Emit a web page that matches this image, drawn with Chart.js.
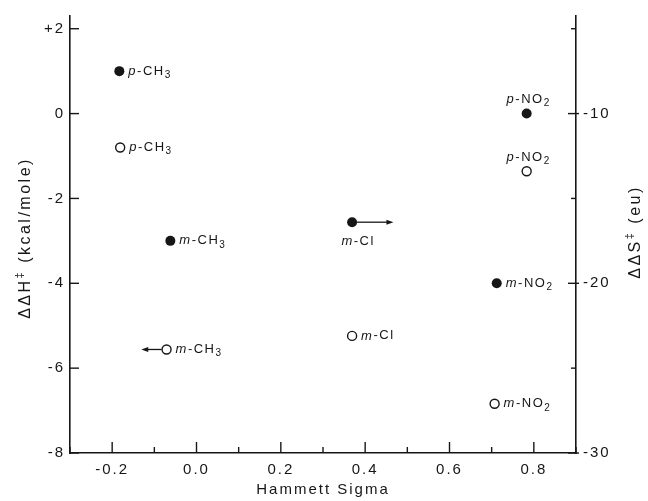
<!DOCTYPE html>
<html>
<head>
<meta charset="utf-8">
<script src="https://cdn.jsdelivr.net/npm/chart.js@4.4.1/dist/chart.umd.min.js"></script>
<style>
  html, body { margin: 0; padding: 0; background: #fff; }
</style>
</head>
<body>
<canvas id="hammett" width="648" height="501"></canvas>
<script>
// substituents, in the same order for every array below
const substituents = ['p-CH3', 'm-CH3', 'm-Cl', 'm-NO2', 'p-NO2']

// filled circles: ddH (kcal/mole), left axis
const sigmaH = [-0.183, -0.062, 0.369, 0.712, 0.783]
const deltaH = [1.0, -3.0, -2.56, -4.0, 0.0]
const arrowH = [null, null, 0.467, null, null]

// open circles: ddS (eu), right axis
const sigmaS = [-0.181, -0.071, 0.369, 0.707, 0.783]
const deltaS = [-12.0, -23.9, -23.1, -27.1, -13.4]
const arrowS = [null, -0.131, null, null, null]

// axes
const sigmaTicks = [-0.3, -0.2, -0.1, 0, 0.1, 0.2, 0.3, 0.4, 0.5, 0.6, 0.7, 0.8, 0.9]
const sigmaLabels = [-0.2, 0, 0.2, 0.4, 0.6, 0.8]
const hTicks = [-8, -6, -4, -2, 0, 2]
const sTicks = [-30, -25, -20, -15, -10, -5]
const sLabels = [-30, -20, -10]

// where each label sits next to its point
const placeH = ['right', 'right', 'below', 'right', 'above']
const placeS = ['right', 'right', 'right', 'right', 'above']

const FONT = '"Liberation Sans", Arial, sans-serif'
const INK = '#161616'

const near = (a, b) => Math.abs(a - b) < 1e-9

// label like "m-NO2": italic first letter, digits as subscripts
function drawLabel(ctx, text, x, y, align) {
  const parts = [{ t: text[0], f: 'italic 13px ' + FONT, dy: 0 }]
  for (const ch of text.slice(1)) {
    if (/\d/.test(ch)) parts.push({ t: ch, f: '10px ' + FONT, dy: 4 })
    else parts.push({ t: ch, f: '13px ' + FONT, dy: 0 })
  }
  let w = 0
  parts.forEach(p => { ctx.font = p.f; p.w = ctx.measureText(p.t).width; w += p.w })
  let cx = align === 'center' ? x - w / 2 : x
  ctx.textAlign = 'left'
  ctx.textBaseline = 'middle'
  parts.forEach(p => { ctx.font = p.f; ctx.fillText(p.t, cx, y + p.dy); cx += p.w })
}

function drawArrow(ctx, x0, x1, y) {
  const dir = Math.sign(x1 - x0)
  ctx.beginPath()
  ctx.moveTo(x0 + dir * 5, y)
  ctx.lineTo(x1 - dir * 5, y)
  ctx.stroke()
  ctx.beginPath()
  ctx.moveTo(x1, y)
  ctx.lineTo(x1 - dir * 7, y - 2.5)
  ctx.lineTo(x1 - dir * 7, y + 2.5)
  ctx.closePath()
  ctx.fill()
}

// axis title like "ddH‡ (kcal/mole)", rotated to read upward
function drawYTitle(ctx, main, rest, cx, cy) {
  ctx.save()
  ctx.translate(cx, cy)
  ctx.rotate(-Math.PI / 2)
  ctx.letterSpacing = '2.5px'
  ctx.font = '16px ' + FONT
  const w1 = ctx.measureText(main).width
  ctx.font = '11px ' + FONT
  const w2 = ctx.measureText('\u2021').width
  ctx.font = '16px ' + FONT
  const w3 = ctx.measureText(rest).width
  let x = -(w1 + w2 + w3) / 2
  ctx.textAlign = 'left'
  ctx.textBaseline = 'middle'
  ctx.fillText(main, x, 0)
  x += w1
  ctx.font = '11px ' + FONT
  ctx.fillText('\u2021', x, -6)
  x += w2
  ctx.font = '16px ' + FONT
  ctx.fillText(rest, x, 0)
  ctx.restore()
}

const decorations = {
  id: 'decorations',
  beforeDraw(chart) {
    chart.ctx.letterSpacing = '2px'
  },
  afterDatasetsDraw(chart) {
    const { ctx, scales } = chart
    const { x, y, y2 } = scales
    ctx.save()
    ctx.strokeStyle = INK
    ctx.fillStyle = INK
    ctx.lineWidth = 1.4

    // inward tick marks
    x.ticks.forEach(t => {
      const px = x.getPixelForValue(t.value)
      const len = sigmaLabels.some(l => near(l, t.value)) ? 11 : 6
      ctx.beginPath(); ctx.moveTo(px, x.top); ctx.lineTo(px, x.top - len); ctx.stroke()
    })
    y.ticks.forEach(t => {
      const py = y.getPixelForValue(t.value)
      ctx.beginPath(); ctx.moveTo(y.right, py); ctx.lineTo(y.right + 9, py); ctx.stroke()
    })
    y2.ticks.forEach(t => {
      const py = y2.getPixelForValue(t.value)
      const major = sLabels.includes(t.value)
      ctx.beginPath(); ctx.moveTo(y2.left - (major ? 8 : 5), py); ctx.lineTo(y2.left + (major ? 3 : 0), py); ctx.stroke()
    })

    // arrows
    ctx.lineWidth = 1.3
    arrowH.forEach((to, i) => {
      if (to === null) return
      drawArrow(ctx, x.getPixelForValue(sigmaH[i]), x.getPixelForValue(to), y.getPixelForValue(deltaH[i]))
    })
    arrowS.forEach((to, i) => {
      if (to === null) return
      drawArrow(ctx, x.getPixelForValue(sigmaS[i]), x.getPixelForValue(to), y2.getPixelForValue(deltaS[i]))
    })

    // point labels
    ctx.letterSpacing = '1.5px'
    const place = (px, py, where, text) => {
      if (where === 'right') drawLabel(ctx, text, px + 9, py, 'left')
      else if (where === 'below') drawLabel(ctx, text, px + 6, py + 19, 'center')
      else drawLabel(ctx, text, px + 2, py - 14, 'center')
    }
    substituents.forEach((s, i) => {
      place(x.getPixelForValue(sigmaH[i]), y.getPixelForValue(deltaH[i]), placeH[i], s)
      place(x.getPixelForValue(sigmaS[i]), y2.getPixelForValue(deltaS[i]), placeS[i], s)
    })

    // axis titles
    drawYTitle(ctx, '\u0394\u0394H', ' (kcal/mole)', 26, 238)
    drawYTitle(ctx, '\u0394\u0394S', ' (eu)', 636, 232)
    ctx.restore()
  },
  afterDraw(chart) {
    chart.ctx.letterSpacing = '0px'
  }
}

const axisBorder = { display: true, color: INK, width: 1.6 }
const tickFont = { family: FONT, size: 15 }

new Chart(document.getElementById('hammett'), {
  type: 'scatter',
  data: {
    datasets: [
      {
        label: 'ddS',
        yAxisID: 'y2',
        data: sigmaS.map((s, i) => ({ x: s, y: deltaS[i] })),
        pointRadius: 4.5,
        pointBorderWidth: 1.4,
        pointBackgroundColor: '#fff',
        pointBorderColor: INK
      },
      {
        label: 'ddH',
        yAxisID: 'y',
        data: sigmaH.map((s, i) => ({ x: s, y: deltaH[i] })),
        pointRadius: 5,
        pointBorderWidth: 0,
        pointBackgroundColor: INK,
        pointBorderColor: INK
      }
    ]
  },
  options: {
    responsive: false,
    animation: false,
    layout: { padding: { top: 12, left: 0, right: 0, bottom: 0 } },
    plugins: { legend: { display: false }, tooltip: { enabled: false } },
    scales: {
      x: {
        type: 'linear',
        min: -0.3,
        max: 0.9,
        afterBuildTicks: axis => { axis.ticks = sigmaTicks.map(v => ({ value: v })) },
        afterFit: axis => { axis.height = 48 },
        grid: { display: false, drawTicks: false },
        border: axisBorder,
        ticks: {
          color: INK,
          font: tickFont,
          padding: 8,
          autoSkip: false,
          maxRotation: 0,
          callback: v => sigmaLabels.some(l => near(l, v)) ? v.toFixed(1) : ''
        },
        title: {
          display: true,
          text: 'Hammett Sigma',
          color: INK,
          font: { family: FONT, size: 15 },
          padding: { top: 0, bottom: 2 }
        }
      },
      y: {
        type: 'linear',
        position: 'left',
        min: -8,
        max: 2.3,
        afterBuildTicks: axis => { axis.ticks = hTicks.map(v => ({ value: v })) },
        afterFit: axis => { axis.width = 70 },
        grid: { display: false, drawTicks: false },
        border: axisBorder,
        ticks: {
          color: INK,
          font: tickFont,
          padding: 5,
          callback: v => v > 0 ? '+' + v : String(v)
        }
      },
      y2: {
        type: 'linear',
        position: 'right',
        min: -30,
        max: -4.25,
        afterBuildTicks: axis => { axis.ticks = sTicks.map(v => ({ value: v })) },
        afterFit: axis => { axis.width = 72 },
        grid: { display: false, drawTicks: false },
        border: axisBorder,
        ticks: {
          color: INK,
          font: tickFont,
          padding: 7,
          callback: v => sLabels.includes(v) ? String(v) : ''
        }
      }
    }
  },
  plugins: [decorations]
})
</script>
</body>
</html>
